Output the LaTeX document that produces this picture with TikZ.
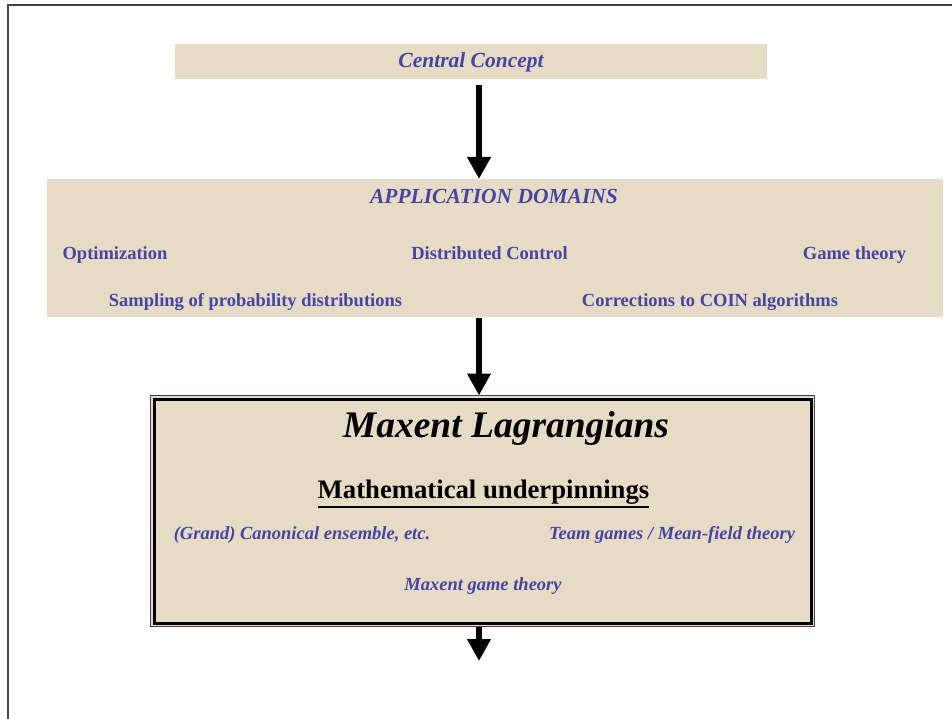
\documentclass[tikz,border=0pt]{standalone}
\usepackage{fontspec}
\setmainfont{Liberation Serif}
\usetikzlibrary{arrows.meta}
\definecolor{beige}{HTML}{E6DBC4}
\definecolor{txtblue}{HTML}{4545A5}
\definecolor{framegray}{HTML}{444444}
\newcommand\myul[1]{\setbox0\hbox{#1}\rlap{\rule[-9pt]{\wd0}{2pt}}\box0}
\begin{document}
\begin{tikzpicture}[x=1pt,y=-1pt,
 box/.style={fill=beige, draw=none, inner sep=0pt, outer sep=0pt},
 dom/.style={text=txtblue, font=\fontsize{18.5}{22}\selectfont\bfseries, inner sep=0pt, anchor=base},
 ital/.style={text=txtblue, font=\fontsize{18.5}{22}\selectfont\bfseries\itshape, inner sep=0pt, anchor=base},
 headtxt/.style={text=txtblue, font=\fontsize{21.5}{25}\selectfont\bfseries\itshape, inner sep=0pt, anchor=base},
 bigarrow/.style={line width=6.5pt, -{Triangle[width=22.5pt,length=22pt]}}]
\useasboundingbox (0,0) rectangle (952,719);
\draw[framegray, line width=1.5pt] (8,719) -- (8,5) -- (952,5);
\coordinate (ax) at (479,0);
% central concept
\node[box, minimum width=592pt, minimum height=35pt] (cc) at (471,61.5) {};
\node[headtxt] (cct) at (471,67.5) {Central Concept};
% application domains
\node[box, minimum width=896pt, minimum height=138pt] (ad) at (495,248) {};
\node[headtxt] (adt) at (494,203.5) {APPLICATION DOMAINS};
\node[dom] (opt) at (115,259.5) {Optimization};
\node[dom] (dc) at (489.5,259.5) {Distributed Control};
\node[dom] (gt) at (854.5,259.5) {Game theory};
\node[dom] (samp) at (255.5,306.5) {Sampling of probability distributions};
\node[dom] (corr) at (710,306.5) {Corrections to COIN algorithms};
% maxent box
\node[fill=beige, draw=framegray, line width=1pt, inner sep=0pt, outer sep=0pt,
      minimum width=664pt, minimum height=231pt] (ml) at (482.5,511) {};
\draw[line width=3pt] ([shift={(4,4)}]ml.north west) rectangle ([shift={(-3,-3.3)}]ml.south east);
\node[inner sep=0pt, anchor=base, font=\fontsize{37.5}{40}\selectfont\bfseries\itshape] (mlt) at (506,437) {Maxent Lagrangians};
\node[inner sep=0pt, anchor=base, font=\fontsize{26.7}{30}\selectfont\bfseries] (mu) at (483.5,498.5) {\myul{Mathematical underpinnings}};
\node[ital] (gce) at (302,539) {(Grand) Canonical ensemble, etc.};
\node[ital] (tg) at (672,539) {Team games / Mean-field theory};
\node[ital] (mgt) at (483,590) {Maxent game theory};
% arrows
\coordinate (endpt) at (479,661);
\draw[bigarrow, shorten <=6pt] (cc.south -| ax) -- (ad.north -| ax);
\draw[bigarrow, shorten <=1pt] (ad.south -| ax) -- (ml.north -| ax);
\draw[bigarrow] (ml.south -| ax) -- (endpt);
\end{tikzpicture}
\end{document}
